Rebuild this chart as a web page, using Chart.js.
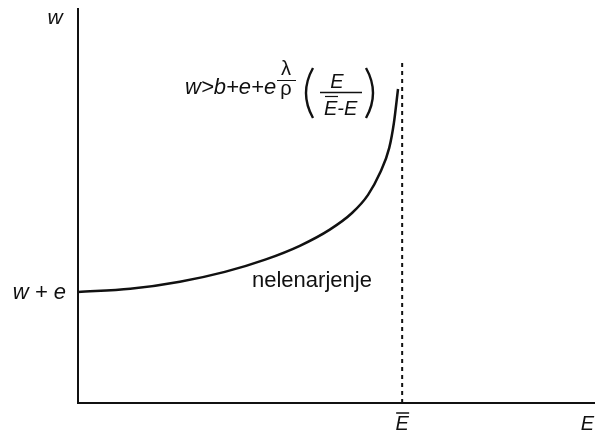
<!DOCTYPE html>
<html>
<head>
<meta charset="utf-8">
<script src="https://cdn.jsdelivr.net/npm/chart.js@4.4.0/dist/chart.umd.min.js"></script>
<style>
  html, body { margin: 0; padding: 0; background: #fff; }
</style>
</head>
<body>
<canvas id="wage" width="595" height="432"></canvas>
<script>
// effort E (x) against wage w (y), both axes run 0..100
var effort = [0, 10.1, 19.7, 28.4, 36.2, 42.9, 48.7, 53.0, 56.1, 58.4, 60.2, 61.1, 61.9];
var wage = [28.1, 28.9, 30.7, 33.2, 36.3, 39.8, 43.9, 48.1, 52.7, 58.2, 64.6, 70.9, 79.5];
var eBar = 62.7;      // full effort, the asymptote
var dashTop = 86.3;
var wPlusE = 28.1;
var yLabels = ['w', 'w + e'];
var xLabels = ['E', 'E'];   // first one gets an overbar
var curveLabel = 'nelenarjenje';

var sans = '"Liberation Sans", Arial, sans-serif';

function bar(ctx, x1, x2, y, w) {
  ctx.lineWidth = w;
  ctx.beginPath();
  ctx.moveTo(x1, y);
  ctx.lineTo(x2, y);
  ctx.stroke();
}

// tall thin bracket, dir -1 opens right "(", +1 opens left ")"
function paren(ctx, x, top, bottom, dir) {
  ctx.lineWidth = 2.4;
  ctx.beginPath();
  ctx.moveTo(x, top);
  ctx.quadraticCurveTo(x + dir * 14, (top + bottom) / 2, x, bottom);
  ctx.stroke();
}

var axesAndText = {
  id: 'axesAndText',
  afterDatasetsDraw: function(chart) {
    var ctx = chart.ctx, a = chart.chartArea;
    var xs = chart.scales.x, ys = chart.scales.y;
    ctx.save();
    ctx.strokeStyle = '#111';
    ctx.fillStyle = '#111';

    // axes
    ctx.lineWidth = 2;
    ctx.beginPath();
    ctx.moveTo(a.left, a.top);
    ctx.lineTo(a.left, a.bottom);
    ctx.lineTo(a.right, a.bottom);
    ctx.stroke();

    // y axis labels
    ctx.font = 'italic 21px ' + sans;
    ctx.textAlign = 'center';
    ctx.textBaseline = 'middle';
    ctx.fillText(yLabels[0], 55, 18);
    ctx.font = 'italic 22px ' + sans;
    ctx.textAlign = 'right';
    ctx.fillText(yLabels[1], 66, ys.getPixelForValue(wPlusE) + 1);

    // x axis labels
    ctx.font = 'italic 20px ' + sans;
    ctx.textBaseline = 'alphabetic';
    ctx.textAlign = 'center';
    var xb = xs.getPixelForValue(eBar);
    ctx.fillText(xLabels[0], xb, 430);
    bar(ctx, xb - 6, xb + 7, 413, 1.5);
    ctx.textAlign = 'right';
    ctx.fillText(xLabels[1], 594, 430);

    // curve label
    ctx.font = '22px ' + sans;
    ctx.textAlign = 'left';
    ctx.fillText(curveLabel, 252, 287);

    // w > b + e + e (lambda/rho) (E / (Ebar - E))
    ctx.font = 'italic 22px ' + sans;
    ctx.fillText('w>b+e+e', 185, 94);
    ctx.font = '20px ' + sans;
    ctx.textAlign = 'center';
    ctx.fillText('λ', 286, 75);
    bar(ctx, 277, 296, 80.5, 1);
    ctx.fillText('ρ', 286, 95);
    paren(ctx, 313, 68, 118, -1);
    paren(ctx, 366, 68, 118, 1);
    ctx.font = 'italic 20px ' + sans;
    ctx.textAlign = 'center';
    ctx.fillText('E', 337, 88);
    bar(ctx, 320, 362, 92.5, 1.5);
    ctx.textAlign = 'left';
    ctx.fillText('E-E', 324, 115);
    bar(ctx, 325, 338, 96.5, 1.2);
    ctx.restore();
  }
};

new Chart('wage', {
  type: 'line',
  data: {
    datasets: [{
      data: effort.map(function(x, i) { return { x: x, y: wage[i] }; }),
      borderColor: '#111',
      borderWidth: 2.5,
      pointRadius: 0,
      cubicInterpolationMode: 'monotone',
      fill: false
    }, {
      data: [{ x: eBar, y: 0 }, { x: eBar, y: dashTop }],
      borderColor: '#111',
      borderWidth: 2,
      borderDash: [4, 4],
      pointRadius: 0,
      fill: false
    }]
  },
  options: {
    responsive: false,
    animation: false,
    layout: { padding: { left: 78, top: 8, right: 0, bottom: 29 } },
    scales: {
      x: { type: 'linear', min: 0, max: 100, display: false },
      y: { min: 0, max: 100, display: false }
    },
    plugins: { legend: { display: false }, tooltip: { enabled: false } }
  },
  plugins: [axesAndText]
});
</script>
</body>
</html>
